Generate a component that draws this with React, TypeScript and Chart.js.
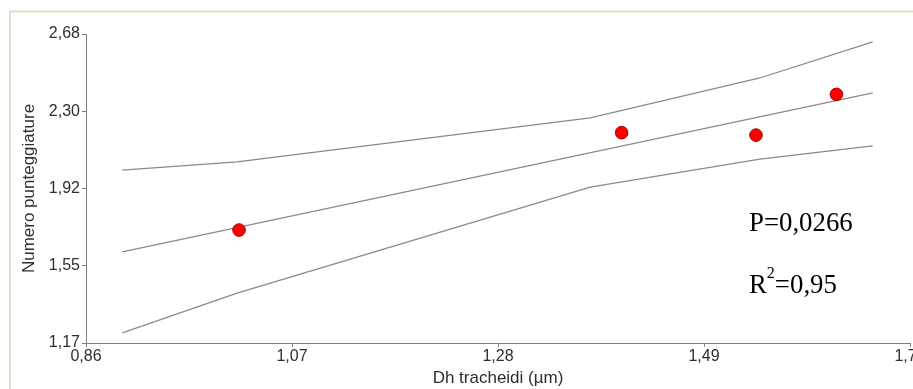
import React, { useEffect, useRef } from "react";
import { Chart, registerables } from "chart.js";

Chart.register(...registerables);

// Observed data points (Dh tracheidi vs Numero punteggiature)
const pointX = [1.016, 1.406, 1.543, 1.625];
const pointY = [1.722, 2.198, 2.186, 2.385];

// Regression line
const fitX = [0.897, 1.662];
const fitY = [1.615, 2.392];

// Confidence band (upper / lower)
const bandX = [0.897, 1.014, 1.374, 1.547, 1.662];
const upperY = [2.015, 2.055, 2.27, 2.465, 2.641];
const lowerY = [1.219, 1.414, 1.932, 2.069, 2.133];

// Axis ticks
const xTickValues = [0.86, 1.07, 1.28, 1.49, 1.7];
const xTickLabels = ["0,86", "1,07", "1,28", "1,49", "1,70"];
const yTickValues = [1.17, 1.5475, 1.925, 2.3025, 2.68];
const yTickLabels = ["1,17", "1,55", "1,92", "2,30", "2,68"];

const statP = "P=0,0266";
const statR = "R";
const statRsup = "2";
const statRval = "=0,95";

const SANS = "'Liberation Sans', Arial, sans-serif";
const SERIF = "'Liberation Serif', 'Times New Roman', serif";
const AXIS_GRAY = "#7f7f7f";
const TEXT = "#2e2e2e";
const LINE = "#8a8a8a";

const toXY = (xs: number[], ys: number[]) => xs.map((x, i) => ({ x, y: ys[i] }));

export default function App() {
  const ref = useRef<HTMLCanvasElement | null>(null);

  useEffect(() => {
    if (!ref.current) return;

    const framePlugin = {
      id: "frame",
      beforeDraw(chart: any) {
        const ctx = chart.ctx;
        ctx.save();
        ctx.strokeStyle = "#e2dec9";
        ctx.lineWidth = 2;
        ctx.strokeRect(10, 11.5, 1200, 1200);
        ctx.restore();
      },
    };

    const statsPlugin = {
      id: "stats",
      afterDraw(chart: any) {
        const ctx = chart.ctx;
        ctx.save();
        ctx.fillStyle = "#000";
        ctx.textBaseline = "alphabetic";
        ctx.textAlign = "left";
        ctx.font = `26.8px ${SERIF}`;
        ctx.fillText(statP, 749, 231);
        ctx.fillText(statR, 749, 293);
        const rw = ctx.measureText(statR).width;
        ctx.font = `16px ${SERIF}`;
        ctx.fillText(statRsup, 749 + rw, 278);
        const sw = ctx.measureText(statRsup).width;
        ctx.font = `26.8px ${SERIF}`;
        ctx.fillText(statRval, 749 + rw + sw, 293);
        ctx.restore();
      },
    };

    const chart = new Chart(ref.current, {
      type: "scatter",
      data: {
        datasets: [
          {
            label: "Dati",
            data: toXY(pointX, pointY),
            backgroundColor: "#ff0000",
            borderColor: "#a00000",
            borderWidth: 1,
            pointRadius: 6.3,
            showLine: false,
          },
          {
            label: "Regressione",
            data: toXY(fitX, fitY),
            showLine: true,
            borderColor: LINE,
            borderWidth: 1.3,
            pointRadius: 0,
            fill: false,
          },
          {
            label: "Superiore",
            data: toXY(bandX, upperY),
            showLine: true,
            borderColor: LINE,
            borderWidth: 1.3,
            pointRadius: 0,
            fill: false,
          },
          {
            label: "Inferiore",
            data: toXY(bandX, lowerY),
            showLine: true,
            borderColor: LINE,
            borderWidth: 1.3,
            pointRadius: 0,
            fill: false,
          },
        ],
      },
      options: {
        responsive: false,
        animation: false,
        layout: { padding: { left: 0, top: 34, right: 20, bottom: 0 } },
        plugins: {
          legend: { display: false },
          tooltip: { enabled: false },
        },
        scales: {
          x: {
            type: "linear",
            min: 0.86,
            max: 1.7,
            afterBuildTicks: (scale: any) => {
              scale.ticks = xTickValues.map((v) => ({ value: v }));
            },
            afterFit: (scale: any) => {
              scale.height = 46;
            },
            ticks: {
              autoSkip: false,
              maxRotation: 0,
              padding: 0,
              color: TEXT,
              font: { family: SANS, size: 16 },
              callback: (_v: any, i: number) => xTickLabels[i],
            },
            grid: {
              display: true,
              drawOnChartArea: false,
              drawTicks: true,
              tickLength: 4,
              color: AXIS_GRAY,
            },
            border: { display: true, color: AXIS_GRAY, width: 1 },
            title: {
              display: true,
              text: "Dh tracheidi (µm)",
              color: TEXT,
              font: { family: SANS, size: 17 },
              padding: { top: 2, bottom: 0 },
            },
          },
          y: {
            type: "linear",
            min: 1.17,
            max: 2.68,
            afterBuildTicks: (scale: any) => {
              scale.ticks = yTickValues.map((v) => ({ value: v }));
            },
            afterFit: (scale: any) => {
              scale.width = 86;
            },
            ticks: {
              autoSkip: false,
              padding: 2,
              color: TEXT,
              font: { family: SANS, size: 16 },
              callback: (_v: any, i: number) => yTickLabels[i],
            },
            grid: {
              display: true,
              drawOnChartArea: false,
              drawTicks: true,
              tickLength: 4,
              color: AXIS_GRAY,
            },
            border: { display: true, color: AXIS_GRAY, width: 1 },
            title: {
              display: true,
              text: "Numero punteggiature",
              color: TEXT,
              font: { family: SANS, size: 17 },
              padding: { top: 19, bottom: 0 },
            },
          },
        },
      },
      plugins: [framePlugin, statsPlugin],
    } as any);

    return () => chart.destroy();
  }, []);

  return (
    <div
      style={{
        position: "fixed",
        left: 0,
        top: 0,
        width: 913,
        height: 389,
        overflow: "hidden",
        background: "#ffffff",
      }}
    >
      <canvas ref={ref} width={930} height={389} style={{ display: "block" }} />
    </div>
  );
}
